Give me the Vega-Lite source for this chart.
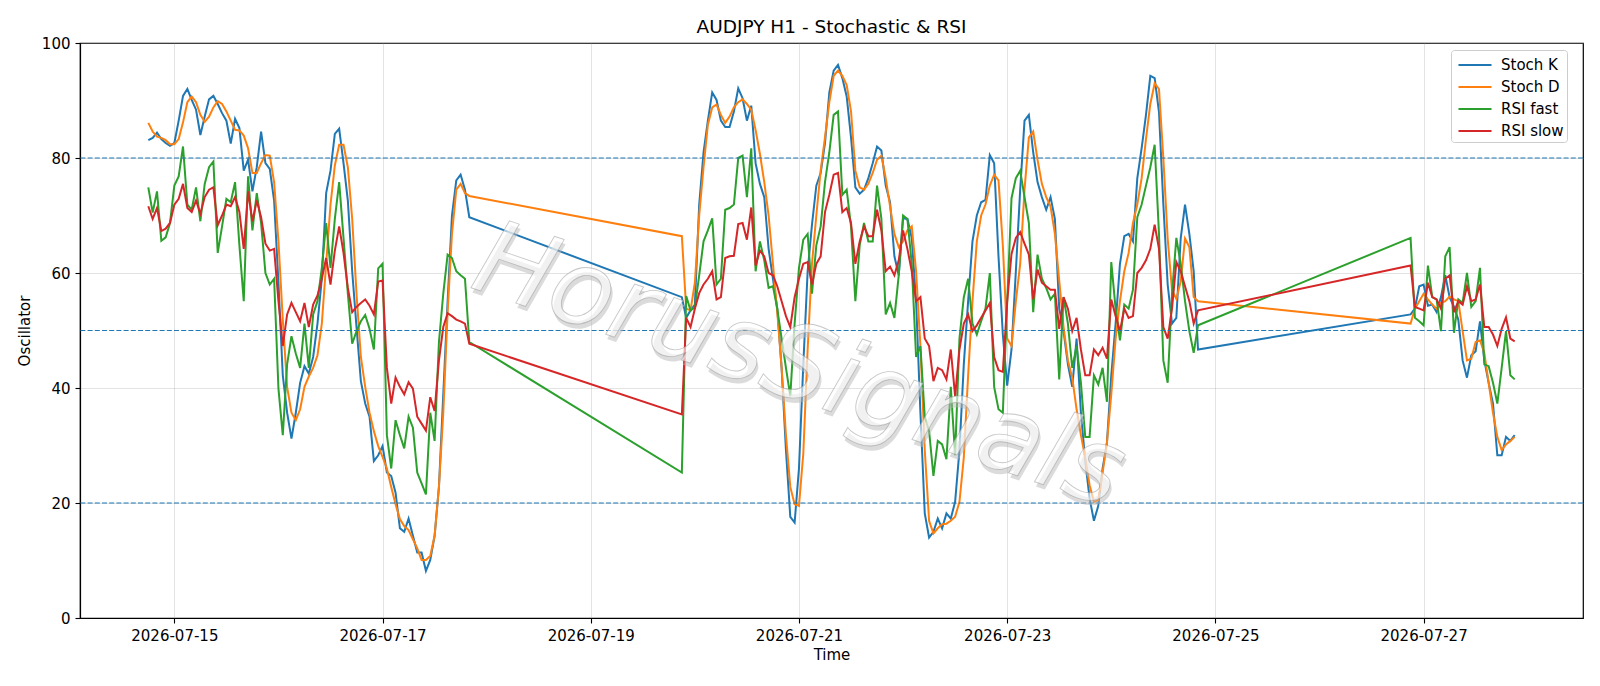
{
"$schema": "https://vega.github.io/schema/vega-lite/v6.json",
"width": 1503, "height": 575,
"autosize": {"type": "none"},
"padding": {"left": 80, "top": 43, "right": 17, "bottom": 68},
"background": "white",
"title": {"text": "AUDJPY H1 - Stochastic & RSI", "fontSize": 18.5, "font": "DejaVu Sans", "fontWeight": "normal", "color": "black", "offset": 0, "anchor": "middle"},
"config": {
  "view": {"stroke": "black", "strokeWidth": 1.2},
  "font": "DejaVu Sans",
  "axis": {"labelFont": "DejaVu Sans", "titleFont": "DejaVu Sans", "labelFontSize": 15, "titleFontSize": 15, "titleFontWeight": "normal", "labelColor": "black", "titleColor": "black", "tickColor": "black", "domainColor": "black", "tickSize": 5, "tickWidth": 1.1, "domainWidth": 1.2, "labelPadding": 5, "gridColor": "#b0b0b0", "gridOpacity": 0.35, "gridWidth": 1}
},
"datasets": {"osc": [
{"t":"2026-07-14T18:00Z","Stoch K":83.1,"Stoch D":86.1,"RSI fast":74.9,"RSI slow":71.6},
{"t":"2026-07-14T19:00Z","Stoch K":83.5,"Stoch D":84.6,"RSI fast":70.5,"RSI slow":69.4},
{"t":"2026-07-14T20:00Z","Stoch K":84.4,"Stoch D":83.7,"RSI fast":74.2,"RSI slow":71.3},
{"t":"2026-07-14T21:00Z","Stoch K":83.3,"Stoch D":83.5,"RSI fast":65.6,"RSI slow":67.3},
{"t":"2026-07-14T22:00Z","Stoch K":82.6,"Stoch D":83.1,"RSI fast":66.2,"RSI slow":67.7},
{"t":"2026-07-14T23:00Z","Stoch K":82.1,"Stoch D":82.4,"RSI fast":68.7,"RSI slow":68.7},
{"t":"2026-07-15T00:00Z","Stoch K":82.6,"Stoch D":82.4,"RSI fast":75.2,"RSI slow":71.9},
{"t":"2026-07-15T01:00Z","Stoch K":86.5,"Stoch D":83.3,"RSI fast":76.8,"RSI slow":72.9},
{"t":"2026-07-15T02:00Z","Stoch K":90.8,"Stoch D":86.2,"RSI fast":82.0,"RSI slow":75.5},
{"t":"2026-07-15T03:00Z","Stoch K":92.0,"Stoch D":89.7,"RSI fast":71.9,"RSI slow":71.3},
{"t":"2026-07-15T04:00Z","Stoch K":90.1,"Stoch D":90.7,"RSI fast":71.0,"RSI slow":70.6},
{"t":"2026-07-15T05:00Z","Stoch K":88.4,"Stoch D":89.7,"RSI fast":74.9,"RSI slow":72.6},
{"t":"2026-07-15T06:00Z","Stoch K":84.0,"Stoch D":87.5,"RSI fast":69.0,"RSI slow":70.3},
{"t":"2026-07-15T07:00Z","Stoch K":87.2,"Stoch D":86.3,"RSI fast":75.5,"RSI slow":73.2},
{"t":"2026-07-15T08:00Z","Stoch K":90.2,"Stoch D":87.2,"RSI fast":78.4,"RSI slow":74.5},
{"t":"2026-07-15T09:00Z","Stoch K":90.8,"Stoch D":88.8,"RSI fast":79.4,"RSI slow":74.9},
{"t":"2026-07-15T10:00Z","Stoch K":89.4,"Stoch D":89.9,"RSI fast":63.5,"RSI slow":68.3},
{"t":"2026-07-15T11:00Z","Stoch K":87.8,"Stoch D":89.4,"RSI fast":68.1,"RSI slow":70.0},
{"t":"2026-07-15T12:00Z","Stoch K":86.5,"Stoch D":88.1,"RSI fast":72.9,"RSI slow":71.9},
{"t":"2026-07-15T13:00Z","Stoch K":82.5,"Stoch D":86.5,"RSI fast":72.3,"RSI slow":71.6},
{"t":"2026-07-15T14:00Z","Stoch K":86.8,"Stoch D":84.9,"RSI fast":75.8,"RSI slow":73.2},
{"t":"2026-07-15T15:00Z","Stoch K":85.2,"Stoch D":84.8,"RSI fast":64.8,"RSI slow":70.6},
{"t":"2026-07-15T16:00Z","Stoch K":77.8,"Stoch D":83.9,"RSI fast":55.1,"RSI slow":64.2},
{"t":"2026-07-15T17:00Z","Stoch K":79.7,"Stoch D":81.7,"RSI fast":76.8,"RSI slow":74.2},
{"t":"2026-07-15T18:00Z","Stoch K":74.2,"Stoch D":77.4,"RSI fast":67.4,"RSI slow":69.0},
{"t":"2026-07-15T19:00Z","Stoch K":78.4,"Stoch D":77.4,"RSI fast":73.9,"RSI slow":72.6},
{"t":"2026-07-15T20:00Z","Stoch K":84.6,"Stoch D":79.1,"RSI fast":68.7,"RSI slow":69.7},
{"t":"2026-07-15T21:00Z","Stoch K":79.1,"Stoch D":80.5,"RSI fast":60.0,"RSI slow":65.1},
{"t":"2026-07-15T22:00Z","Stoch K":78.1,"Stoch D":80.4,"RSI fast":58.0,"RSI slow":63.9},
{"t":"2026-07-15T23:00Z","Stoch K":72.6,"Stoch D":75.8,"RSI fast":59.0,"RSI slow":64.2},
{"t":"2026-07-16T00:00Z","Stoch K":58.3,"Stoch D":65.5,"RSI fast":39.9,"RSI slow":55.1},
{"t":"2026-07-16T01:00Z","Stoch K":42.2,"Stoch D":51.9,"RSI fast":31.8,"RSI slow":47.3},
{"t":"2026-07-16T02:00Z","Stoch K":35.7,"Stoch D":40.2,"RSI fast":44.1,"RSI slow":52.8},
{"t":"2026-07-16T03:00Z","Stoch K":31.2,"Stoch D":35.7,"RSI fast":49.0,"RSI slow":54.8},
{"t":"2026-07-16T04:00Z","Stoch K":35.7,"Stoch D":34.4,"RSI fast":46.0,"RSI slow":53.2},
{"t":"2026-07-16T05:00Z","Stoch K":40.9,"Stoch D":36.3,"RSI fast":43.5,"RSI slow":51.6},
{"t":"2026-07-16T06:00Z","Stoch K":43.8,"Stoch D":40.2,"RSI fast":51.2,"RSI slow":54.8},
{"t":"2026-07-16T07:00Z","Stoch K":42.5,"Stoch D":42.0,"RSI fast":43.5,"RSI slow":50.6},
{"t":"2026-07-16T08:00Z","Stoch K":45.4,"Stoch D":43.5,"RSI fast":52.8,"RSI slow":54.5},
{"t":"2026-07-16T09:00Z","Stoch K":51.2,"Stoch D":45.7,"RSI fast":55.1,"RSI slow":56.1},
{"t":"2026-07-16T10:00Z","Stoch K":59.0,"Stoch D":51.2,"RSI fast":60.9,"RSI slow":59.0},
{"t":"2026-07-16T11:00Z","Stoch K":73.9,"Stoch D":61.6,"RSI fast":68.7,"RSI slow":62.6},
{"t":"2026-07-16T12:00Z","Stoch K":77.8,"Stoch D":71.9,"RSI fast":60.9,"RSI slow":58.0},
{"t":"2026-07-16T13:00Z","Stoch K":84.2,"Stoch D":78.7,"RSI fast":69.4,"RSI slow":63.9},
{"t":"2026-07-16T14:00Z","Stoch K":85.1,"Stoch D":82.3,"RSI fast":75.8,"RSI slow":68.1},
{"t":"2026-07-16T15:00Z","Stoch K":79.1,"Stoch D":82.3,"RSI fast":66.1,"RSI slow":63.5},
{"t":"2026-07-16T16:00Z","Stoch K":72.6,"Stoch D":78.4,"RSI fast":56.4,"RSI slow":57.4},
{"t":"2026-07-16T17:00Z","Stoch K":60.3,"Stoch D":69.4,"RSI fast":47.7,"RSI slow":53.2},
{"t":"2026-07-16T18:00Z","Stoch K":50.6,"Stoch D":56.4,"RSI fast":49.9,"RSI slow":54.1},
{"t":"2026-07-16T19:00Z","Stoch K":41.2,"Stoch D":45.4,"RSI fast":51.6,"RSI slow":54.8},
{"t":"2026-07-16T20:00Z","Stoch K":37.3,"Stoch D":40.2,"RSI fast":52.7,"RSI slow":55.4},
{"t":"2026-07-16T21:00Z","Stoch K":35.0,"Stoch D":35.7,"RSI fast":50.3,"RSI slow":54.3},
{"t":"2026-07-16T22:00Z","Stoch K":27.3,"Stoch D":32.5,"RSI fast":46.7,"RSI slow":52.8},
{"t":"2026-07-16T23:00Z","Stoch K":28.3,"Stoch D":29.9,"RSI fast":60.8,"RSI slow":58.5},
{"t":"2026-07-17T00:00Z","Stoch K":29.9,"Stoch D":28.0,"RSI fast":61.6,"RSI slow":58.7},
{"t":"2026-07-17T01:00Z","Stoch K":25.3,"Stoch D":26.0,"RSI fast":31.8,"RSI slow":43.5},
{"t":"2026-07-17T02:00Z","Stoch K":24.7,"Stoch D":22.8,"RSI fast":26.0,"RSI slow":37.3},
{"t":"2026-07-17T03:00Z","Stoch K":21.8,"Stoch D":19.8,"RSI fast":34.4,"RSI slow":41.8},
{"t":"2026-07-17T04:00Z","Stoch K":15.6,"Stoch D":17.2,"RSI fast":31.8,"RSI slow":40.2},
{"t":"2026-07-17T05:00Z","Stoch K":15.0,"Stoch D":16.0,"RSI fast":29.5,"RSI slow":38.9},
{"t":"2026-07-17T06:00Z","Stoch K":17.3,"Stoch D":15.3,"RSI fast":35.0,"RSI slow":41.0},
{"t":"2026-07-17T07:00Z","Stoch K":14.3,"Stoch D":13.7,"RSI fast":33.1,"RSI slow":39.9},
{"t":"2026-07-17T08:00Z","Stoch K":11.4,"Stoch D":12.1,"RSI fast":25.3,"RSI slow":35.0},
{"t":"2026-07-17T09:00Z","Stoch K":11.4,"Stoch D":10.1,"RSI fast":23.4,"RSI slow":33.8},
{"t":"2026-07-17T10:00Z","Stoch K":8.2,"Stoch D":10.1,"RSI fast":21.5,"RSI slow":32.6},
{"t":"2026-07-17T11:00Z","Stoch K":10.1,"Stoch D":10.8,"RSI fast":35.7,"RSI slow":38.4},
{"t":"2026-07-17T12:00Z","Stoch K":14.3,"Stoch D":14.3,"RSI fast":30.8,"RSI slow":36.0},
{"t":"2026-07-17T13:00Z","Stoch K":22.8,"Stoch D":22.8,"RSI fast":48.0,"RSI slow":44.8},
{"t":"2026-07-17T14:00Z","Stoch K":38.9,"Stoch D":35.7,"RSI fast":56.4,"RSI slow":50.6},
{"t":"2026-07-17T15:00Z","Stoch K":55.1,"Stoch D":53.2,"RSI fast":63.2,"RSI slow":53.0},
{"t":"2026-07-17T16:00Z","Stoch K":70.0,"Stoch D":66.8,"RSI fast":62.6,"RSI slow":52.5},
{"t":"2026-07-17T17:00Z","Stoch K":76.1,"Stoch D":74.5,"RSI fast":60.3,"RSI slow":51.9},
{"t":"2026-07-17T18:00Z","Stoch K":77.1,"Stoch D":75.5,"RSI fast":59.6,"RSI slow":51.6},
{"t":"2026-07-17T19:00Z","Stoch K":74.5,"Stoch D":73.9,"RSI fast":59.0,"RSI slow":51.2},
{"t":"2026-07-17T20:00Z","Stoch K":69.7,"Stoch D":73.4,"RSI fast":48.0,"RSI slow":47.7},
{"t":"2026-07-19T21:00Z","Stoch K":55.8,"Stoch D":66.4,"RSI fast":25.3,"RSI slow":35.4},
{"t":"2026-07-19T22:00Z","Stoch K":52.2,"Stoch D":53.8,"RSI fast":56.0,"RSI slow":52.2},
{"t":"2026-07-19T23:00Z","Stoch K":53.5,"Stoch D":53.5,"RSI fast":53.5,"RSI slow":50.6},
{"t":"2026-07-20T00:00Z","Stoch K":54.5,"Stoch D":58.3,"RSI fast":54.0,"RSI slow":53.8},
{"t":"2026-07-20T01:00Z","Stoch K":71.9,"Stoch D":70.0,"RSI fast":59.6,"RSI slow":56.5},
{"t":"2026-07-20T02:00Z","Stoch K":81.0,"Stoch D":78.4,"RSI fast":65.5,"RSI slow":58.0},
{"t":"2026-07-20T03:00Z","Stoch K":86.5,"Stoch D":85.8,"RSI fast":67.4,"RSI slow":59.0},
{"t":"2026-07-20T04:00Z","Stoch K":91.4,"Stoch D":88.8,"RSI fast":69.5,"RSI slow":60.3},
{"t":"2026-07-20T05:00Z","Stoch K":90.1,"Stoch D":89.3,"RSI fast":58.0,"RSI slow":55.4},
{"t":"2026-07-20T06:00Z","Stoch K":86.5,"Stoch D":87.5,"RSI fast":59.0,"RSI slow":55.8},
{"t":"2026-07-20T07:00Z","Stoch K":85.4,"Stoch D":86.1,"RSI fast":71.0,"RSI slow":62.6},
{"t":"2026-07-20T08:00Z","Stoch K":85.4,"Stoch D":87.2,"RSI fast":71.3,"RSI slow":62.9},
{"t":"2026-07-20T09:00Z","Stoch K":88.1,"Stoch D":88.8,"RSI fast":71.9,"RSI slow":63.0},
{"t":"2026-07-20T10:00Z","Stoch K":92.1,"Stoch D":89.7,"RSI fast":80.0,"RSI slow":68.5},
{"t":"2026-07-20T11:00Z","Stoch K":90.4,"Stoch D":90.2,"RSI fast":80.4,"RSI slow":68.7},
{"t":"2026-07-20T12:00Z","Stoch K":86.5,"Stoch D":89.4,"RSI fast":73.2,"RSI slow":65.8},
{"t":"2026-07-20T13:00Z","Stoch K":89.1,"Stoch D":88.4,"RSI fast":81.7,"RSI slow":71.4},
{"t":"2026-07-20T14:00Z","Stoch K":79.1,"Stoch D":84.9,"RSI fast":60.3,"RSI slow":61.3},
{"t":"2026-07-20T15:00Z","Stoch K":75.5,"Stoch D":80.7,"RSI fast":65.5,"RSI slow":63.9},
{"t":"2026-07-20T16:00Z","Stoch K":73.2,"Stoch D":75.8,"RSI fast":62.2,"RSI slow":62.9},
{"t":"2026-07-20T17:00Z","Stoch K":64.2,"Stoch D":70.0,"RSI fast":57.4,"RSI slow":60.0},
{"t":"2026-07-20T18:00Z","Stoch K":59.0,"Stoch D":61.6,"RSI fast":57.7,"RSI slow":59.6},
{"t":"2026-07-20T19:00Z","Stoch K":53.8,"Stoch D":53.2,"RSI fast":53.8,"RSI slow":57.7},
{"t":"2026-07-20T20:00Z","Stoch K":43.5,"Stoch D":43.5,"RSI fast":48.6,"RSI slow":55.1},
{"t":"2026-07-20T21:00Z","Stoch K":29.2,"Stoch D":31.8,"RSI fast":43.5,"RSI slow":52.5},
{"t":"2026-07-20T22:00Z","Stoch K":17.6,"Stoch D":22.8,"RSI fast":38.6,"RSI slow":50.6},
{"t":"2026-07-20T23:00Z","Stoch K":16.6,"Stoch D":19.8,"RSI fast":51.2,"RSI slow":55.8},
{"t":"2026-07-21T00:00Z","Stoch K":26.0,"Stoch D":19.5,"RSI fast":60.9,"RSI slow":59.0},
{"t":"2026-07-21T01:00Z","Stoch K":44.1,"Stoch D":28.6,"RSI fast":65.8,"RSI slow":61.6},
{"t":"2026-07-21T02:00Z","Stoch K":60.3,"Stoch D":46.7,"RSI fast":66.8,"RSI slow":61.9},
{"t":"2026-07-21T03:00Z","Stoch K":68.4,"Stoch D":61.6,"RSI fast":56.4,"RSI slow":58.0},
{"t":"2026-07-21T04:00Z","Stoch K":75.2,"Stoch D":70.0,"RSI fast":64.8,"RSI slow":61.6},
{"t":"2026-07-21T05:00Z","Stoch K":77.4,"Stoch D":77.8,"RSI fast":68.1,"RSI slow":62.9},
{"t":"2026-07-21T06:00Z","Stoch K":82.6,"Stoch D":83.6,"RSI fast":75.8,"RSI slow":70.6},
{"t":"2026-07-21T07:00Z","Stoch K":91.4,"Stoch D":89.7,"RSI fast":81.0,"RSI slow":73.6},
{"t":"2026-07-21T08:00Z","Stoch K":95.2,"Stoch D":94.3,"RSI fast":87.5,"RSI slow":77.1},
{"t":"2026-07-21T09:00Z","Stoch K":96.2,"Stoch D":95.2,"RSI fast":88.1,"RSI slow":77.4},
{"t":"2026-07-21T10:00Z","Stoch K":93.9,"Stoch D":94.3,"RSI fast":73.6,"RSI slow":70.6},
{"t":"2026-07-21T11:00Z","Stoch K":90.7,"Stoch D":92.7,"RSI fast":74.5,"RSI slow":71.3},
{"t":"2026-07-21T12:00Z","Stoch K":83.6,"Stoch D":88.1,"RSI fast":68.1,"RSI slow":68.7},
{"t":"2026-07-21T13:00Z","Stoch K":74.9,"Stoch D":77.8,"RSI fast":55.1,"RSI slow":61.6},
{"t":"2026-07-21T14:00Z","Stoch K":73.8,"Stoch D":74.9,"RSI fast":64.8,"RSI slow":65.5},
{"t":"2026-07-21T15:00Z","Stoch K":74.5,"Stoch D":74.5,"RSI fast":68.7,"RSI slow":68.1},
{"t":"2026-07-21T16:00Z","Stoch K":76.5,"Stoch D":75.5,"RSI fast":65.5,"RSI slow":66.4},
{"t":"2026-07-21T17:00Z","Stoch K":79.1,"Stoch D":77.4,"RSI fast":65.5,"RSI slow":66.4},
{"t":"2026-07-21T18:00Z","Stoch K":82.0,"Stoch D":79.7,"RSI fast":75.2,"RSI slow":71.0},
{"t":"2026-07-21T19:00Z","Stoch K":81.3,"Stoch D":80.4,"RSI fast":69.4,"RSI slow":67.4},
{"t":"2026-07-21T20:00Z","Stoch K":75.2,"Stoch D":76.5,"RSI fast":52.8,"RSI slow":60.3},
{"t":"2026-07-21T21:00Z","Stoch K":72.3,"Stoch D":71.6,"RSI fast":54.8,"RSI slow":61.1},
{"t":"2026-07-21T22:00Z","Stoch K":62.9,"Stoch D":66.8,"RSI fast":52.2,"RSI slow":59.6},
{"t":"2026-07-21T23:00Z","Stoch K":59.6,"Stoch D":64.5,"RSI fast":59.6,"RSI slow":62.2},
{"t":"2026-07-22T00:00Z","Stoch K":69.5,"Stoch D":65.5,"RSI fast":70.0,"RSI slow":67.4},
{"t":"2026-07-22T01:00Z","Stoch K":69.4,"Stoch D":67.4,"RSI fast":69.4,"RSI slow":64.2},
{"t":"2026-07-22T02:00Z","Stoch K":66.1,"Stoch D":68.1,"RSI fast":61.6,"RSI slow":60.3},
{"t":"2026-07-22T03:00Z","Stoch K":55.1,"Stoch D":60.3,"RSI fast":45.4,"RSI slow":55.1},
{"t":"2026-07-22T04:00Z","Stoch K":35.7,"Stoch D":47.3,"RSI fast":47.3,"RSI slow":55.8},
{"t":"2026-07-22T05:00Z","Stoch K":18.2,"Stoch D":29.2,"RSI fast":35.0,"RSI slow":48.6},
{"t":"2026-07-22T06:00Z","Stoch K":14.0,"Stoch D":16.9,"RSI fast":32.5,"RSI slow":47.3},
{"t":"2026-07-22T07:00Z","Stoch K":15.0,"Stoch D":14.7,"RSI fast":24.7,"RSI slow":41.2},
{"t":"2026-07-22T08:00Z","Stoch K":17.3,"Stoch D":15.6,"RSI fast":30.8,"RSI slow":43.5},
{"t":"2026-07-22T09:00Z","Stoch K":15.6,"Stoch D":16.3,"RSI fast":30.2,"RSI slow":43.1},
{"t":"2026-07-22T10:00Z","Stoch K":18.2,"Stoch D":16.4,"RSI fast":27.6,"RSI slow":41.5},
{"t":"2026-07-22T11:00Z","Stoch K":17.3,"Stoch D":16.9,"RSI fast":40.2,"RSI slow":46.7},
{"t":"2026-07-22T12:00Z","Stoch K":20.2,"Stoch D":17.6,"RSI fast":28.3,"RSI slow":38.6},
{"t":"2026-07-22T13:00Z","Stoch K":29.2,"Stoch D":20.2,"RSI fast":48.6,"RSI slow":46.7},
{"t":"2026-07-22T14:00Z","Stoch K":44.1,"Stoch D":27.9,"RSI fast":55.8,"RSI slow":51.2},
{"t":"2026-07-22T15:00Z","Stoch K":55.1,"Stoch D":42.2,"RSI fast":59.0,"RSI slow":52.8},
{"t":"2026-07-22T16:00Z","Stoch K":65.5,"Stoch D":55.1,"RSI fast":51.2,"RSI slow":49.9},
{"t":"2026-07-22T17:00Z","Stoch K":70.0,"Stoch D":65.5,"RSI fast":49.3,"RSI slow":50.9},
{"t":"2026-07-22T18:00Z","Stoch K":72.3,"Stoch D":70.0,"RSI fast":51.6,"RSI slow":52.2},
{"t":"2026-07-22T19:00Z","Stoch K":72.7,"Stoch D":71.9,"RSI fast":53.8,"RSI slow":53.5},
{"t":"2026-07-22T20:00Z","Stoch K":80.5,"Stoch D":75.2,"RSI fast":60.0,"RSI slow":54.8},
{"t":"2026-07-22T21:00Z","Stoch K":79.1,"Stoch D":77.1,"RSI fast":40.2,"RSI slow":45.4},
{"t":"2026-07-22T22:00Z","Stoch K":62.9,"Stoch D":76.1,"RSI fast":36.3,"RSI slow":43.1},
{"t":"2026-07-22T23:00Z","Stoch K":49.3,"Stoch D":64.8,"RSI fast":35.7,"RSI slow":42.8},
{"t":"2026-07-23T00:00Z","Stoch K":40.4,"Stoch D":48.6,"RSI fast":55.0,"RSI slow":55.0},
{"t":"2026-07-23T01:00Z","Stoch K":46.7,"Stoch D":47.3,"RSI fast":73.0,"RSI slow":63.3},
{"t":"2026-07-23T02:00Z","Stoch K":60.3,"Stoch D":55.1,"RSI fast":76.5,"RSI slow":66.1},
{"t":"2026-07-23T03:00Z","Stoch K":74.5,"Stoch D":61.6,"RSI fast":77.8,"RSI slow":67.1},
{"t":"2026-07-23T04:00Z","Stoch K":86.5,"Stoch D":74.5,"RSI fast":73.2,"RSI slow":65.1},
{"t":"2026-07-23T05:00Z","Stoch K":87.5,"Stoch D":83.6,"RSI fast":68.7,"RSI slow":63.2},
{"t":"2026-07-23T06:00Z","Stoch K":81.0,"Stoch D":84.6,"RSI fast":53.2,"RSI slow":55.4},
{"t":"2026-07-23T07:00Z","Stoch K":75.8,"Stoch D":79.7,"RSI fast":63.2,"RSI slow":60.6},
{"t":"2026-07-23T08:00Z","Stoch K":73.2,"Stoch D":75.5,"RSI fast":59.0,"RSI slow":58.3},
{"t":"2026-07-23T09:00Z","Stoch K":71.0,"Stoch D":73.2,"RSI fast":57.4,"RSI slow":57.7},
{"t":"2026-07-23T10:00Z","Stoch K":73.2,"Stoch D":71.6,"RSI fast":55.4,"RSI slow":57.1},
{"t":"2026-07-23T11:00Z","Stoch K":69.4,"Stoch D":66.8,"RSI fast":56.4,"RSI slow":57.1},
{"t":"2026-07-23T12:00Z","Stoch K":53.8,"Stoch D":58.7,"RSI fast":41.5,"RSI slow":50.3},
{"t":"2026-07-23T13:00Z","Stoch K":49.9,"Stoch D":50.6,"RSI fast":55.8,"RSI slow":55.8},
{"t":"2026-07-23T14:00Z","Stoch K":44.1,"Stoch D":44.8,"RSI fast":51.2,"RSI slow":53.8},
{"t":"2026-07-23T15:00Z","Stoch K":40.2,"Stoch D":41.8,"RSI fast":43.5,"RSI slow":49.9},
{"t":"2026-07-23T16:00Z","Stoch K":48.6,"Stoch D":36.3,"RSI fast":47.3,"RSI slow":52.2},
{"t":"2026-07-23T17:00Z","Stoch K":35.7,"Stoch D":31.8,"RSI fast":40.9,"RSI slow":46.7},
{"t":"2026-07-23T18:00Z","Stoch K":27.3,"Stoch D":27.9,"RSI fast":31.5,"RSI slow":42.2},
{"t":"2026-07-23T19:00Z","Stoch K":20.8,"Stoch D":23.1,"RSI fast":31.5,"RSI slow":42.2},
{"t":"2026-07-23T20:00Z","Stoch K":16.9,"Stoch D":20.2,"RSI fast":42.2,"RSI slow":46.7},
{"t":"2026-07-23T21:00Z","Stoch K":19.5,"Stoch D":20.5,"RSI fast":40.6,"RSI slow":45.7},
{"t":"2026-07-23T22:00Z","Stoch K":26.0,"Stoch D":25.3,"RSI fast":43.5,"RSI slow":47.0},
{"t":"2026-07-23T23:00Z","Stoch K":30.5,"Stoch D":30.5,"RSI fast":37.6,"RSI slow":45.1},
{"t":"2026-07-24T00:00Z","Stoch K":42.2,"Stoch D":38.9,"RSI fast":61.9,"RSI slow":55.4},
{"t":"2026-07-24T01:00Z","Stoch K":51.2,"Stoch D":48.6,"RSI fast":53.8,"RSI slow":52.5},
{"t":"2026-07-24T02:00Z","Stoch K":61.6,"Stoch D":55.1,"RSI fast":48.3,"RSI slow":49.9},
{"t":"2026-07-24T03:00Z","Stoch K":66.4,"Stoch D":60.3,"RSI fast":54.5,"RSI slow":53.8},
{"t":"2026-07-24T04:00Z","Stoch K":66.8,"Stoch D":63.5,"RSI fast":53.8,"RSI slow":52.2},
{"t":"2026-07-24T05:00Z","Stoch K":65.5,"Stoch D":68.7,"RSI fast":57.1,"RSI slow":52.5},
{"t":"2026-07-24T06:00Z","Stoch K":76.5,"Stoch D":71.9,"RSI fast":69.7,"RSI slow":60.0},
{"t":"2026-07-24T07:00Z","Stoch K":81.7,"Stoch D":76.5,"RSI fast":71.9,"RSI slow":60.9},
{"t":"2026-07-24T08:00Z","Stoch K":87.5,"Stoch D":83.3,"RSI fast":75.2,"RSI slow":62.2},
{"t":"2026-07-24T09:00Z","Stoch K":94.3,"Stoch D":89.4,"RSI fast":78.4,"RSI slow":64.2},
{"t":"2026-07-24T10:00Z","Stoch K":93.9,"Stoch D":93.0,"RSI fast":82.3,"RSI slow":68.4},
{"t":"2026-07-24T11:00Z","Stoch K":88.0,"Stoch D":92.0,"RSI fast":66.8,"RSI slow":64.2},
{"t":"2026-07-24T12:00Z","Stoch K":72.0,"Stoch D":80.0,"RSI fast":44.8,"RSI slow":50.6},
{"t":"2026-07-24T13:00Z","Stoch K":58.0,"Stoch D":66.0,"RSI fast":40.9,"RSI slow":48.6},
{"t":"2026-07-24T14:00Z","Stoch K":51.2,"Stoch D":57.0,"RSI fast":56.4,"RSI slow":53.8},
{"t":"2026-07-24T15:00Z","Stoch K":52.2,"Stoch D":55.5,"RSI fast":66.1,"RSI slow":61.9},
{"t":"2026-07-24T16:00Z","Stoch K":66.0,"Stoch D":58.5,"RSI fast":61.6,"RSI slow":60.3},
{"t":"2026-07-24T17:00Z","Stoch K":71.9,"Stoch D":66.0,"RSI fast":55.1,"RSI slow":57.7},
{"t":"2026-07-24T18:00Z","Stoch K":66.8,"Stoch D":64.5,"RSI fast":49.9,"RSI slow":55.1},
{"t":"2026-07-24T19:00Z","Stoch K":60.3,"Stoch D":55.8,"RSI fast":46.1,"RSI slow":51.2},
{"t":"2026-07-24T20:00Z","Stoch K":46.7,"Stoch D":55.1,"RSI fast":50.9,"RSI slow":53.5},
{"t":"2026-07-26T21:00Z","Stoch K":52.8,"Stoch D":51.2,"RSI fast":66.1,"RSI slow":61.3},
{"t":"2026-07-26T22:00Z","Stoch K":53.8,"Stoch D":53.8,"RSI fast":52.2,"RSI slow":54.1},
{"t":"2026-07-26T23:00Z","Stoch K":57.7,"Stoch D":55.1,"RSI fast":51.6,"RSI slow":53.8},
{"t":"2026-07-27T00:00Z","Stoch K":58.0,"Stoch D":56.4,"RSI fast":50.9,"RSI slow":53.5},
{"t":"2026-07-27T01:00Z","Stoch K":54.3,"Stoch D":55.4,"RSI fast":61.3,"RSI slow":58.3},
{"t":"2026-07-27T02:00Z","Stoch K":54.5,"Stoch D":54.5,"RSI fast":55.8,"RSI slow":55.8},
{"t":"2026-07-27T03:00Z","Stoch K":53.2,"Stoch D":53.8,"RSI fast":55.4,"RSI slow":55.4},
{"t":"2026-07-27T04:00Z","Stoch K":55.8,"Stoch D":54.8,"RSI fast":49.9,"RSI slow":53.8},
{"t":"2026-07-27T05:00Z","Stoch K":59.6,"Stoch D":55.1,"RSI fast":62.9,"RSI slow":59.0},
{"t":"2026-07-27T06:00Z","Stoch K":55.8,"Stoch D":55.9,"RSI fast":64.5,"RSI slow":59.6},
{"t":"2026-07-27T07:00Z","Stoch K":54.1,"Stoch D":55.4,"RSI fast":49.6,"RSI slow":53.2},
{"t":"2026-07-27T08:00Z","Stoch K":51.9,"Stoch D":55.1,"RSI fast":55.4,"RSI slow":55.1},
{"t":"2026-07-27T09:00Z","Stoch K":44.8,"Stoch D":49.9,"RSI fast":54.8,"RSI slow":54.5},
{"t":"2026-07-27T10:00Z","Stoch K":41.8,"Stoch D":44.8,"RSI fast":60.0,"RSI slow":57.7},
{"t":"2026-07-27T11:00Z","Stoch K":45.7,"Stoch D":45.1,"RSI fast":54.1,"RSI slow":55.1},
{"t":"2026-07-27T12:00Z","Stoch K":46.4,"Stoch D":48.0,"RSI fast":55.1,"RSI slow":55.4},
{"t":"2026-07-27T13:00Z","Stoch K":51.6,"Stoch D":48.3,"RSI fast":60.9,"RSI slow":58.0},
{"t":"2026-07-27T14:00Z","Stoch K":44.8,"Stoch D":46.1,"RSI fast":44.1,"RSI slow":50.6},
{"t":"2026-07-27T15:00Z","Stoch K":40.9,"Stoch D":40.9,"RSI fast":43.8,"RSI slow":50.6},
{"t":"2026-07-27T16:00Z","Stoch K":37.3,"Stoch D":35.7,"RSI fast":40.9,"RSI slow":49.3},
{"t":"2026-07-27T17:00Z","Stoch K":28.3,"Stoch D":31.5,"RSI fast":37.3,"RSI slow":47.3},
{"t":"2026-07-27T18:00Z","Stoch K":28.3,"Stoch D":29.2,"RSI fast":43.5,"RSI slow":50.3},
{"t":"2026-07-27T19:00Z","Stoch K":31.5,"Stoch D":30.2,"RSI fast":49.9,"RSI slow":52.3},
{"t":"2026-07-27T20:00Z","Stoch K":30.8,"Stoch D":30.8,"RSI fast":42.2,"RSI slow":48.6},
{"t":"2026-07-27T21:00Z","Stoch K":31.8,"Stoch D":31.5,"RSI fast":41.5,"RSI slow":48.1}
]},
"layer": [
  {
    "data": {"name": "osc"},
    "transform": [{"fold": ["Stoch K", "Stoch D", "RSI fast", "RSI slow"], "as": ["series", "value"]}],
    "mark": {"type": "line", "strokeWidth": 2},
    "encoding": {
      "x": {"field": "t", "type": "temporal",
            "scale": {"type": "utc", "domain": [{"year": 2026, "month": 7, "date": 14, "hours": 2, "minutes": 15, "utc": true}, {"year": 2026, "month": 7, "date": 28, "hours": 12, "minutes": 45, "utc": true}]},
            "axis": {"title": "Time", "format": "%Y-%m-%d", "titlePadding": 4, "labelOverlap": false, "labelFlush": false,
                     "values": [{"year": 2026, "month": 7, "date": 15, "utc": true}, {"year": 2026, "month": 7, "date": 17, "utc": true}, {"year": 2026, "month": 7, "date": 19, "utc": true}, {"year": 2026, "month": 7, "date": 21, "utc": true}, {"year": 2026, "month": 7, "date": 23, "utc": true}, {"year": 2026, "month": 7, "date": 25, "utc": true}, {"year": 2026, "month": 7, "date": 27, "utc": true}]}},
      "y": {"field": "value", "type": "quantitative", "scale": {"domain": [0, 100], "nice": false, "zero": false},
            "axis": {"title": "Oscillator", "values": [0, 20, 40, 60, 80, 100], "titlePadding": 9}},
      "color": {"field": "series", "type": "nominal",
                "scale": {"domain": ["Stoch K", "Stoch D", "RSI fast", "RSI slow"], "range": ["#1f77b4", "#ff7f0e", "#2ca02c", "#d62728"]},
                "legend": {"title": null, "orient": "none", "legendX": 1371, "legendY": 7, "direction": "vertical",
                           "labelFontSize": 15, "labelColor": "black", "labelFont": "DejaVu Sans",
                           "symbolType": "M-1.5,0H1.5", "symbolSize": 484, "symbolStrokeWidth": 2,
                           "padding": 3, "symbolOffset": 9, "labelOffset": 14, "rowPadding": 2,
                           "fillColor": "white", "strokeColor": "#cccccc", "cornerRadius": 3}}
    }
  },
  {
    "data": {"values": [{"level": 80}, {"level": 50}, {"level": 20}]},
    "mark": {"type": "rule", "color": "#1f77b4", "strokeWidth": 1.2, "strokeDash": [5, 2.2]},
    "encoding": {"y": {"field": "level", "type": "quantitative"}}
  },
  {
    "data": {"values": [{"wm": "HorusSignals"}]},
    "mark": {"type": "text", "font": "DejaVu Sans", "fontStyle": "italic", "fontSize": 104, "angle": 19, "align": "center", "baseline": "middle", "fill": "#b8b8b8", "opacity": 0.5, "dx": 3, "dy": 4},
    "encoding": {"text": {"field": "wm"},
                 "x": {"datum": {"year": 2026, "month": 7, "date": 21, "hours": 0, "utc": true}, "type": "temporal"},
                 "y": {"datum": 43.5, "type": "quantitative"}}
  },
  {
    "data": {"values": [{"wm": "HorusSignals"}]},
    "mark": {"type": "text", "font": "DejaVu Sans", "fontStyle": "italic", "fontSize": 104, "angle": 19, "align": "center", "baseline": "middle", "fill": "white", "fillOpacity": 0.6, "stroke": "#999999", "strokeWidth": 0.9, "strokeOpacity": 0.55},
    "encoding": {"text": {"field": "wm"},
                 "x": {"datum": {"year": 2026, "month": 7, "date": 21, "hours": 0, "utc": true}, "type": "temporal"},
                 "y": {"datum": 43.5, "type": "quantitative"}}
  }
]
}
